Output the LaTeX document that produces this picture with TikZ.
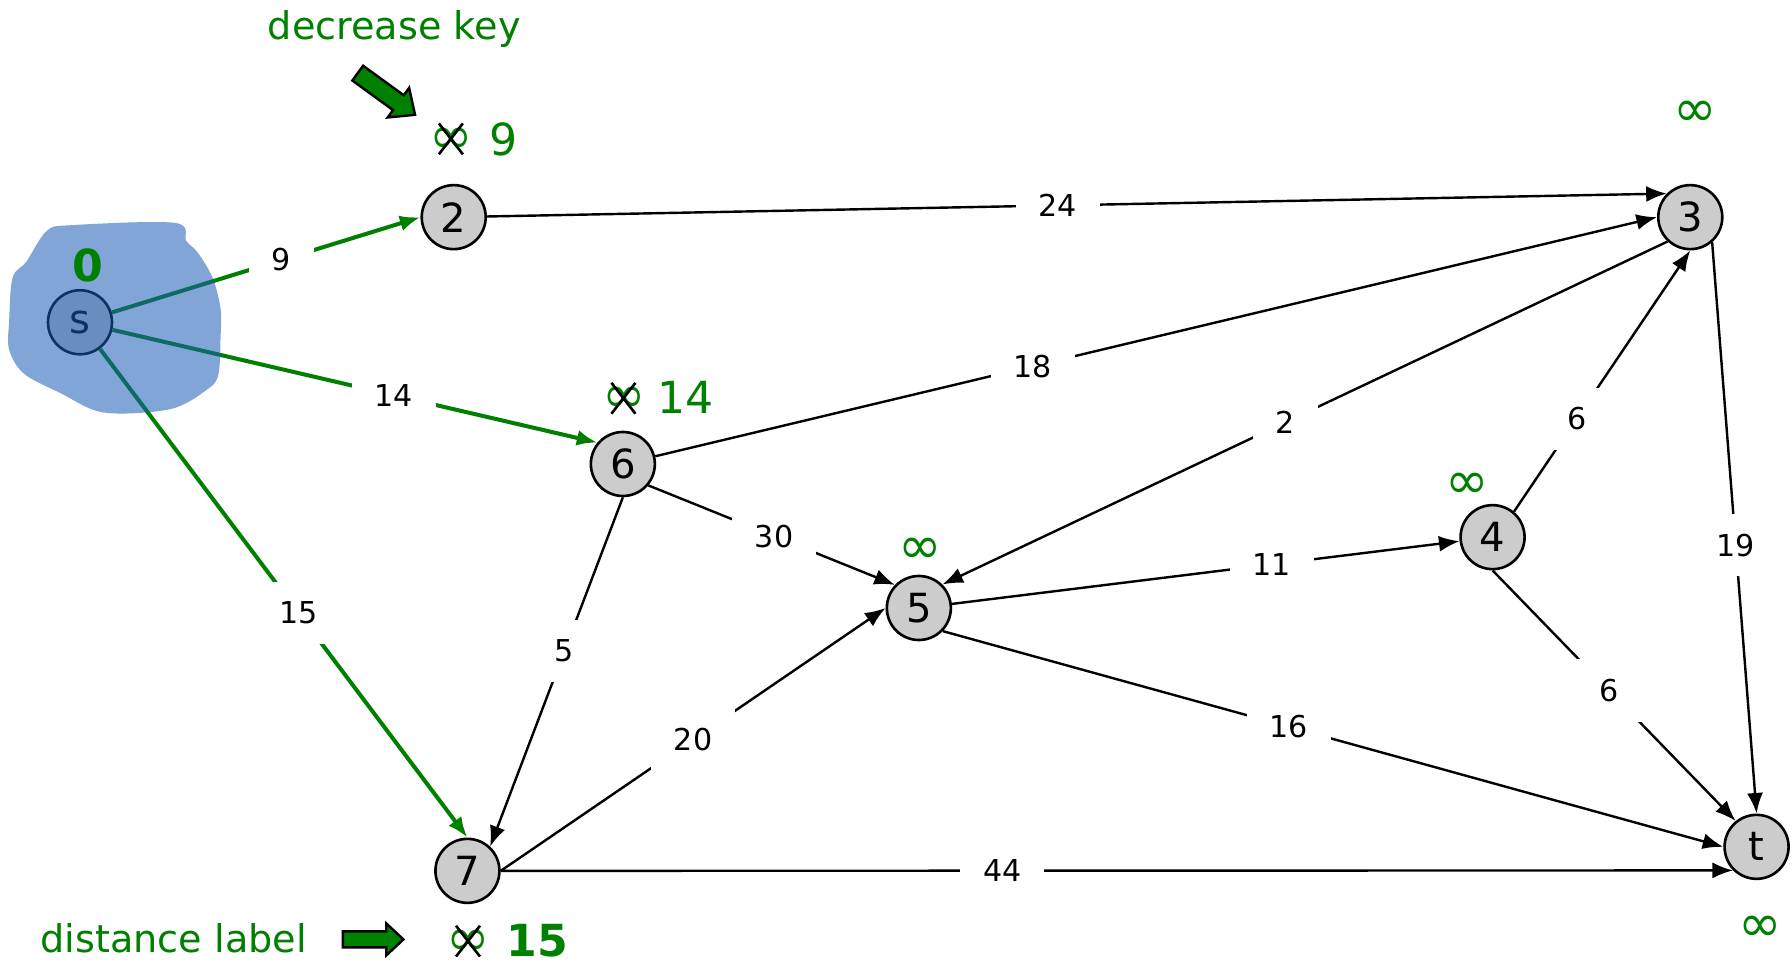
\documentclass[tikz,border=0pt]{standalone}
\usepackage{fontspec}
\setmainfont{DejaVu Sans}
\usetikzlibrary{arrows.meta}
\definecolor{dgreen}{RGB}{0,128,0}
\definecolor{blobblue}{RGB}{27,91,182}
\definecolor{vgray}{RGB}{204,204,204}

\begin{document}
\begin{tikzpicture}[x=0.2mm,y=-0.2mm,
  vtx/.style={circle,draw,line width=1.3pt,fill=vgray,minimum size=11.2mm,inner sep=0pt,font=\fontsize{20}{20}\selectfont},
  wt/.style={fill=white,inner xsep=4mm,inner ysep=3.5mm,font=\fontsize{15}{15}\selectfont},
  arc/.style={line width=1.2pt,-{Latex[length=3.6mm,width=2.8mm]}},
  tree/.style={arc,draw=dgreen,fill=dgreen,line width=2pt},
  dist/.style={text=dgreen,inner sep=0pt,font=\fontsize{22}{22}\selectfont},
  inf/.style={text=dgreen,inner sep=0pt,font=\fontsize{26}{26}\selectfont},
  xmark/.style={line width=1.3pt},
  barrow/.style={draw,line width=1.2pt,fill=dgreen,line join=miter}]
\useasboundingbox (0,0) rectangle (1568,846);

% vertices
\node[vtx] (s) at (70,282) {s};
\node[vtx] (2) at (397,190) {2};
\node[vtx] (3) at (1479,190) {3};
\node[vtx] (6) at (545,406) {6};
\node[vtx] (5) at (804,532) {5};
\node[vtx] (4) at (1306,470) {4};
\node[vtx] (7) at (409,762) {7};
\node[vtx] (t) at (1537,741) {t};

% edges
\foreach \a/\b/\w/\p in {2/3.135/24/0.484, 6/3.180/18/0.377, 3.-133/5.45/2/0.527, 4.50/3.-90/6/0.355,
  3.-49/t.90/19/0.53, 6.-40/5.136/30/0.51, 6.-90/7.47/5/0.44, 5/4/11/0.63, 4.-90/t.129/6/0.48,
  5.-44/t.180/16/0.443, 7.east/5.west/20/0.5, 7.east/t.-135/44/0.407}
  \draw[arc] (\a) -- node[wt,pos=\p] {\w} (\b);
\foreach \b/\w/\p in {2.180/9/0.55, 6.140/14/0.58, 7.90/15/0.54}
  \draw[tree] (s) -- node[wt,pos=\p] {\w} (\b);

% explored region
\fill[blobblue,opacity=0.55] plot[smooth cycle,tension=0.55] coordinates {
  (41,202) (63,197) (153,195) (163,211) (173,221) (186,243) (193,270) (193,295)
  (191,328) (181,341) (149,358) (91,361) (53,344) (21,327) (8,306) (8,281) (11,243) (23,229)};

% distance labels
\node[dist,font=\fontsize{22}{22}\selectfont\bfseries] (d0) at (77,232) {0};
\node[inf] (i2) at (395,123) {∞};
\node[dist] (d2) at (441,122) {9};
\node[inf] (i6) at (546,350) {∞};
\node[dist] (d6) at (600,348) {14};
\node[inf] (i7) at (410,825) {∞};
\node[dist,font=\fontsize{22}{22}\selectfont\bfseries] (d7) at (470,823) {15};
\node[inf] (i5) at (805,482) {∞};
\node[inf] (i4) at (1284,425) {∞};
\node[inf] (i3) at (1483,100) {∞};
\node[inf] (it) at (1540,813) {∞};
\foreach \n in {i2,i6,i7}
  \draw[xmark,shift={(\n)}] (-11,-15) -- (10,12) (10,-15) -- (-11,12);

% notes
\node[dist,font=\fontsize{19}{19}\selectfont] (dk) at (345,25) {decrease key};
\node[dist,font=\fontsize{19}{19}\selectfont] (dl) at (152,821) {distance label};
\draw[barrow,shift={(313,64)},rotate=-36] (0,-8) -- (44,-8) -- (44,-16) -- (62,0) -- (44,16) -- (44,8) -- (0,8) -- cycle;
\draw[barrow,shift={(300,822)}] (0,-7) -- (38,-7) -- (38,-14) -- (53,0) -- (38,14) -- (38,7) -- (0,7) -- cycle;

\end{tikzpicture}
\end{document}
